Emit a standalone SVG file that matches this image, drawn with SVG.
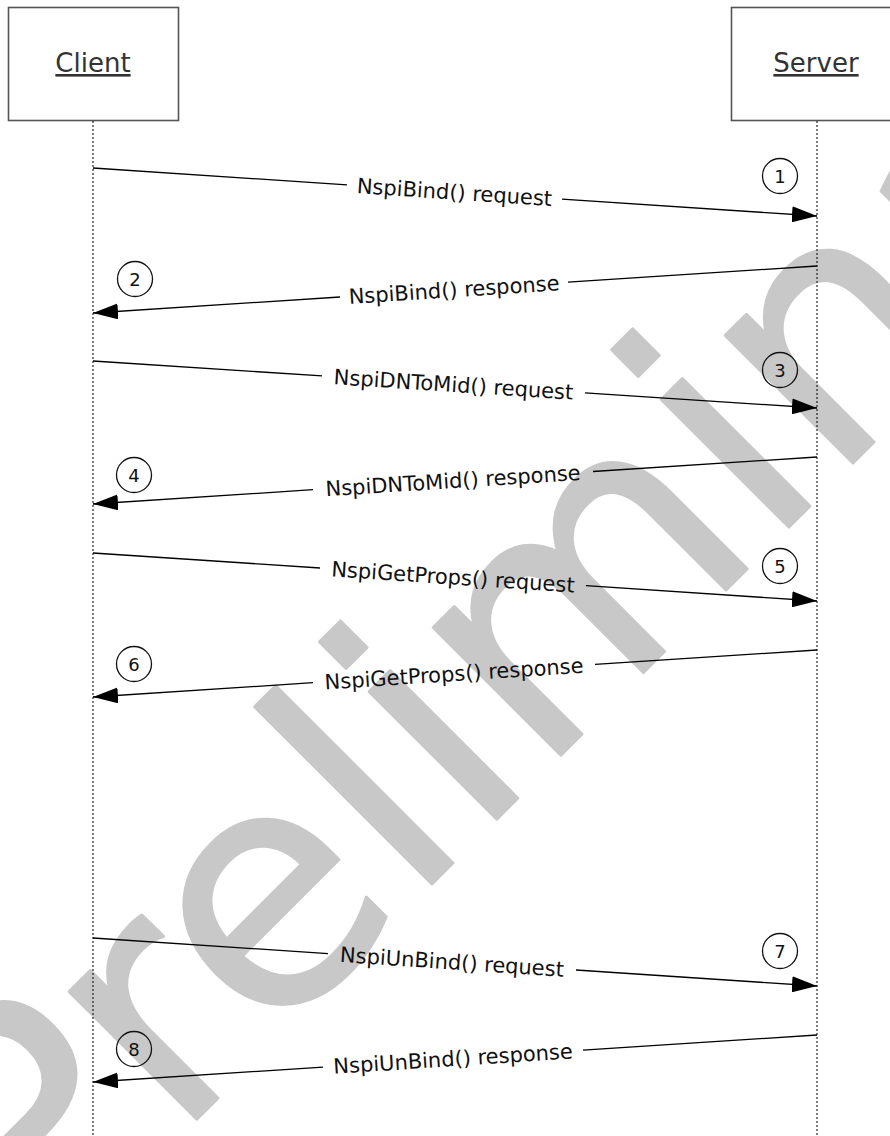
<svg xmlns="http://www.w3.org/2000/svg" width="890" height="1136" viewBox="0 0 890 1136">
<style>
.box{fill:#fff;stroke:#555;stroke-width:1.6}
.head{font-family:"DejaVu Sans",Verdana,sans-serif;font-size:26px;fill:#333;text-anchor:middle;text-decoration:underline}
.life{stroke:#111;stroke-width:1.1;stroke-dasharray:2 2;fill:none}
.msg{stroke:#000;stroke-width:1.3;fill:none}
.lbl{font-family:"DejaVu Sans",Verdana,sans-serif;font-size:21px;fill:#111;text-anchor:middle}
.num{fill:none;stroke:#111;stroke-width:1.3}
.numt{font-family:"DejaVu Sans",Verdana,sans-serif;font-size:18px;fill:#111;text-anchor:middle}
.wm{font-family:"DejaVu Sans",Verdana,sans-serif;font-size:330px;fill:#c8c8c8;stroke:#c8c8c8;stroke-width:3;stroke-linejoin:round}
</style>
<defs>
<marker id="ah" markerUnits="userSpaceOnUse" markerWidth="25" markerHeight="16" refX="25" refY="8" orient="auto">
<path d="M0,0 L25,8 L0,16 z" fill="#000"/>
</marker>
</defs>
<rect x="0" y="0" width="890" height="1136" fill="#fff"/>
<g id="watermark">
<text class="wm" transform="translate(39,1277) rotate(-45)">Preliminary</text>
</g>
<g id="node-client">
<rect class="box" x="8.5" y="7.5" width="170" height="113"/>
<text class="head" x="93" y="72">Client</text>
<line class="life" x1="93" y1="121" x2="93" y2="1136"/>
</g>
<g id="node-server">
<rect class="box" x="731.5" y="7.5" width="170" height="113"/>
<text class="head" x="816" y="72">Server</text>
<line class="life" x1="817" y1="121" x2="817" y2="1136"/>
</g>
<g id="connectors">
<path class="msg" d="M93,168 L347,184.8"/>
<path class="msg" d="M562,199.1 L817,216" marker-end="url(#ah)"/>
<path class="msg" d="M817,266 L568,282.2"/>
<path class="msg" d="M340,297 L93,313" marker-end="url(#ah)"/>
<path class="msg" d="M93,361 L322,375.9"/>
<path class="msg" d="M585,392.9 L817,408" marker-end="url(#ah)"/>
<path class="msg" d="M817,457 L593,471.5"/>
<path class="msg" d="M313,489.7 L93,504" marker-end="url(#ah)"/>
<path class="msg" d="M93,553 L320,568"/>
<path class="msg" d="M586,585.7 L817,601" marker-end="url(#ah)"/>
<path class="msg" d="M817,650 L595,664.4"/>
<path class="msg" d="M313,682.7 L93,697" marker-end="url(#ah)"/>
<path class="msg" d="M93,938 L328,953.6"/>
<path class="msg" d="M576,970 L817,986" marker-end="url(#ah)"/>
<path class="msg" d="M817,1035 L583,1050.2"/>
<path class="msg" d="M323,1067.1 L93,1082" marker-end="url(#ah)"/>
</g>
<g id="labels">
<text class="lbl" transform="translate(454.5,192) rotate(3.79)" y="7.5">NspiBind() request</text>
<text class="lbl" transform="translate(454,289.6) rotate(-3.71)" y="7.5">NspiBind() response</text>
<text class="lbl" transform="translate(453.5,384.4) rotate(3.71)" y="7.5">NspiDNToMid() request</text>
<text class="lbl" transform="translate(453,480.6) rotate(-3.71)" y="7.5">NspiDNToMid() response</text>
<text class="lbl" transform="translate(453,576.9) rotate(3.79)" y="7.5">NspiGetProps() request</text>
<text class="lbl" transform="translate(454,673.6) rotate(-3.71)" y="7.5">NspiGetProps() response</text>
<text class="lbl" transform="translate(452,961.8) rotate(3.79)" y="7.5">NspiUnBind() request</text>
<text class="lbl" transform="translate(453,1058.6) rotate(-3.71)" y="7.5">NspiUnBind() response</text>
</g>
<g id="steps">
<g id="step1"><circle class="num" cx="780" cy="176" r="17.5"/><text class="numt" x="780" y="182.5">1</text></g>
<g id="step2"><circle class="num" cx="135" cy="279" r="17.5"/><text class="numt" x="135" y="285.5">2</text></g>
<g id="step3"><circle class="num" cx="780" cy="370" r="17.5"/><text class="numt" x="780" y="376.5">3</text></g>
<g id="step4"><circle class="num" cx="134" cy="475" r="17.5"/><text class="numt" x="134" y="481.5">4</text></g>
<g id="step5"><circle class="num" cx="780" cy="566" r="17.5"/><text class="numt" x="780" y="572.5">5</text></g>
<g id="step6"><circle class="num" cx="134" cy="664" r="17.5"/><text class="numt" x="134" y="670.5">6</text></g>
<g id="step7"><circle class="num" cx="780" cy="951" r="17.5"/><text class="numt" x="780" y="957.5">7</text></g>
<g id="step8"><circle class="num" cx="134" cy="1049" r="17.5"/><text class="numt" x="134" y="1055.5">8</text></g>
</g>
</svg>
